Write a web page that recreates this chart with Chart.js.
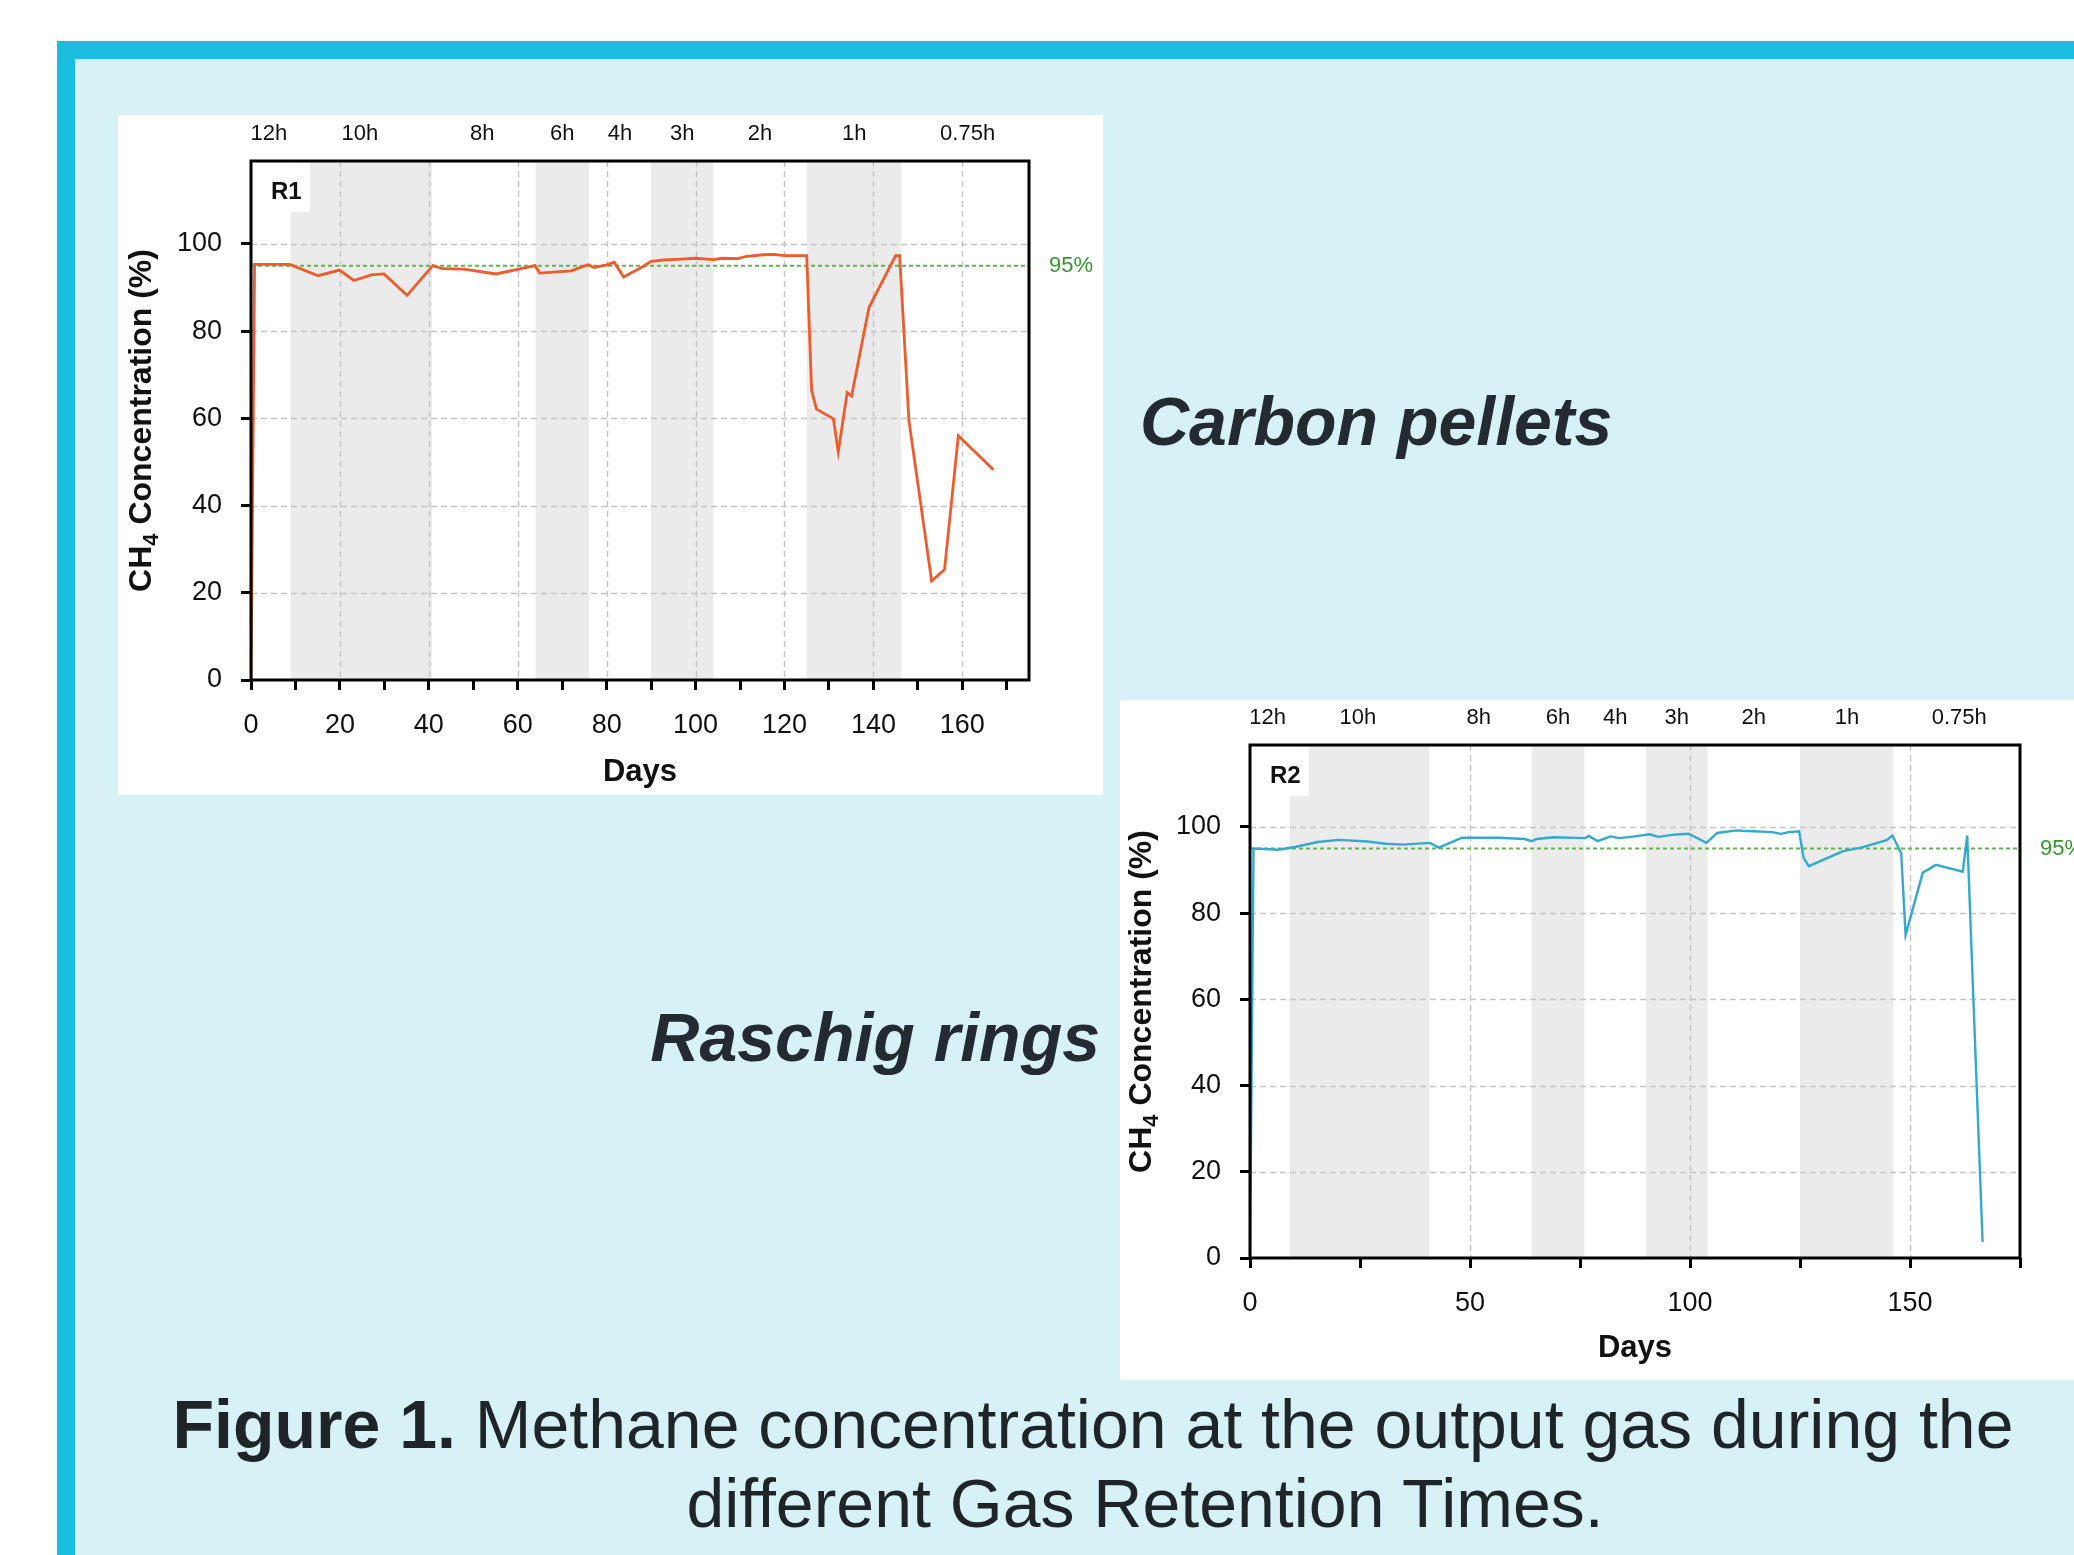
<!DOCTYPE html>
<html>
<head>
<meta charset="utf-8">
<script src="https://cdn.jsdelivr.net/npm/chart.js@4.4.1/dist/chart.umd.min.js"></script>
<style>
html,body{margin:0;padding:0;background:#fff;}
body{width:2074px;height:1555px;position:relative;overflow:hidden;font-family:"Liberation Sans",Arial,Helvetica,sans-serif;}
#frame{position:absolute;left:57px;top:41px;right:0;bottom:0;background:#1CBEDF;}
#inner{position:absolute;left:75px;top:59px;right:0;bottom:0;background:#D6F2F7;}
.panel{position:absolute;background:#fff;}
#p1{left:118px;top:115px;width:985px;height:680px;}
#p2{left:1120px;top:700px;width:954px;height:680px;}
.panel canvas{position:absolute;left:0;top:0;}
.label{position:absolute;font-weight:bold;font-style:italic;font-size:68px;line-height:68px;color:#232A31;white-space:nowrap;}
#lab1{left:1140px;top:387px;}
#lab2{left:0;width:1100px;text-align:right;top:1003px;}
.cap{position:absolute;font-size:68px;line-height:68px;color:#1F2429;white-space:nowrap;text-align:center;width:3000px;}
#cap1{left:-407px;top:1390px;}
#cap2{left:-355px;top:1469px;}
</style>
</head>
<body>
<div id="frame"></div>
<div id="inner"></div>
<div class="panel" id="p1"><canvas id="c1" width="985" height="680"></canvas></div>
<div class="panel" id="p2"><canvas id="c2" width="954" height="680"></canvas></div>
<div class="label" id="lab1">Carbon pellets</div>
<div class="label" id="lab2">Raschig rings</div>
<div class="cap" id="cap1"><b>Figure 1.</b> Methane concentration at the output gas during the</div>
<div class="cap" id="cap2">different Gas Retention Times.</div>
<script>
// ---- data ----
const periodLabels = ['12h','10h','8h','6h','4h','3h','2h','1h','0.75h'];
const periodCenters = [4, 24.5, 52, 70, 83, 97, 114.5, 135.7, 161.2];
const bandStarts = [9, 64, 90, 125];
const bandEnds = [40.7, 76, 104, 146.2];
const yTicks = [0, 20, 40, 60, 80, 100];
const yGrid = [20, 40, 60, 80, 100];
const xTicks1 = [0,10,20,30,40,50,60,70,80,90,100,110,120,130,140,150,160,170];
const xLabels1 = [0,20,40,60,80,100,120,140,160];
const xGrid1 = [20,40,60,80,100,120,140,160];
const xTicks2 = [0,25,50,75,100,125,150,175];
const xLabels2 = [0,50,100,150];
const xGrid2 = [50,100,150];
const threshold = 95;

const daysR1 = [0, 0.8, 8.7, 15.1, 19.9, 23.1, 27.1, 29.9, 35.1, 40.9, 43.1, 47.9, 55.1, 63.9, 64.9, 72.0, 75.8, 77.2, 80.0, 81.7, 83.8, 88.0, 90.0, 92.8, 96.8, 100.0, 104.0, 106.0, 109.6, 111.2, 115.2, 117.6, 120.0, 125.0, 126.1, 127.2, 131.0, 132.1, 134.1, 135.1, 139.0, 145.0, 145.9, 148.0, 153.1, 156.0, 159.1, 167.0];
const ch4R1 = [0, 95.3, 95.3, 92.7, 94.0, 91.6, 92.9, 93.1, 88.2, 95.0, 94.3, 94.2, 93.1, 95.0, 93.3, 93.8, 95.2, 94.6, 95.2, 95.8, 92.4, 94.7, 96.0, 96.3, 96.5, 96.7, 96.4, 96.7, 96.6, 97.1, 97.5, 97.6, 97.3, 97.3, 66.4, 62.1, 59.9, 52.3, 65.9, 65.1, 85.4, 97.3, 97.3, 59.4, 22.7, 25.3, 56.0, 48.2];

const daysR2 = [0, 0.8, 6.5, 10.5, 15.4, 20.1, 26.7, 30.8, 34.8, 40.9, 42.9, 48.2, 56.7, 62.4, 64.0, 65.2, 68.9, 76.2, 77.0, 79.0, 81.9, 83.9, 87.5, 90.8, 92.8, 96.4, 99.7, 103.7, 106.2, 110.6, 111.8, 118.7, 120.7, 122.4, 124.8, 125.8, 127.0, 134.8, 138.9, 144.7, 146.0, 148.0, 149.0, 152.9, 155.9, 162.0, 163.0, 166.5];
const ch4R2 = [0, 95.0, 94.7, 95.4, 96.5, 97.0, 96.6, 96.1, 95.9, 96.3, 95.2, 97.5, 97.5, 97.2, 96.7, 97.2, 97.6, 97.4, 97.9, 96.7, 97.8, 97.4, 97.8, 98.3, 97.7, 98.2, 98.4, 96.3, 98.6, 99.2, 99.1, 98.8, 98.4, 98.8, 99.0, 92.9, 90.9, 94.4, 95.2, 96.9, 98.0, 93.9, 74.9, 89.4, 91.2, 89.6, 98.0, 3.7];

// ---- rendering ----
const FONT = '"Liberation Sans", Arial, Helvetica, sans-serif';

function decorPlugin(cfg) {
  return {
    id: 'decor',
    beforeDatasetsDraw(chart) {
      const {ctx, chartArea: ca, scales} = chart;
      const xs = scales.x, ys = scales.y;
      ctx.save();
      ctx.fillStyle = '#EBEBEB';
      bandStarts.forEach((s, i) => {
        const x0 = xs.getPixelForValue(s), x1 = xs.getPixelForValue(bandEnds[i]);
        ctx.fillRect(x0, ca.top, x1 - x0, ca.bottom - ca.top);
      });
      ctx.fillStyle = '#ffffff';
      ctx.fillRect(ca.left, ca.top + 2, 59, 49);
      ctx.strokeStyle = '#C4C4C4';
      ctx.lineWidth = 1.4;
      ctx.setLineDash([6, 4]);
      cfg.xGrid.forEach(v => {
        const x = Math.round(xs.getPixelForValue(v)) + 0.5;
        ctx.beginPath(); ctx.moveTo(x, ca.top); ctx.lineTo(x, ca.bottom); ctx.stroke();
      });
      yGrid.forEach(v => {
        const y = Math.round(ys.getPixelForValue(v)) + 0.5;
        ctx.beginPath(); ctx.moveTo(ca.left, y); ctx.lineTo(ca.right, y); ctx.stroke();
      });
      ctx.strokeStyle = '#62B54E';
      ctx.lineWidth = 2;
      ctx.setLineDash([4, 3]);
      const yt = ys.getPixelForValue(threshold);
      ctx.beginPath(); ctx.moveTo(ca.left, yt); ctx.lineTo(ca.right, yt); ctx.stroke();
      ctx.setLineDash([]);
      ctx.fillStyle = '#111';
      ctx.font = 'bold 24px ' + FONT;
      ctx.textAlign = 'left';
      ctx.textBaseline = 'alphabetic';
      ctx.fillText(cfg.tag, ca.left + 20, ca.top + 38);
      ctx.restore();
    },
    afterDatasetsDraw(chart) {
      const {ctx, chartArea: ca, scales} = chart;
      const ys = scales.y;
      ctx.save();
      ctx.strokeStyle = '#000';
      ctx.lineWidth = 3;
      ctx.strokeRect(ca.left, ca.top, ca.right - ca.left, ca.bottom - ca.top);
      ctx.fillStyle = '#33992A';
      ctx.font = '22px ' + FONT;
      ctx.textAlign = 'left';
      ctx.textBaseline = 'middle';
      ctx.fillText(threshold + '%', ca.right + 20, ys.getPixelForValue(threshold));
      ctx.translate(cfg.titleX, (ca.top + ca.bottom) / 2);
      ctx.rotate(-Math.PI / 2);
      ctx.fillStyle = '#111';
      ctx.textBaseline = 'alphabetic';
      const big = 'bold 32px ' + FONT, small = 'bold 22px ' + FONT;
      ctx.font = big; const w1 = ctx.measureText('CH').width; const w3 = ctx.measureText(' Concentration (%)').width;
      ctx.font = small; const w2 = ctx.measureText('4').width;
      let x = -(w1 + w2 + w3) / 2;
      const base = 11;
      ctx.font = big; ctx.fillText('CH', x, base); x += w1;
      ctx.font = small; ctx.fillText('4', x, base + 7); x += w2;
      ctx.font = big; ctx.fillText(' Concentration (%)', x, base);
      ctx.restore();
    }
  };
}

function makeChart(id, cfg) {
  return new Chart(document.getElementById(id), {
    type: 'line',
    data: {
      datasets: [{
        data: cfg.days.map((d, i) => ({x: d, y: cfg.vals[i]})),
        borderColor: cfg.color,
        borderWidth: cfg.lw,
        pointRadius: 0,
        tension: 0,
        fill: false
      }]
    },
    options: {
      responsive: false,
      animation: false,
      devicePixelRatio: 1,
      layout: {padding: {left: 0, top: 0, bottom: 0, right: cfg.padRight}},
      plugins: {legend: {display: false}, tooltip: {enabled: false}},
      scales: {
        x: {
          type: 'linear', position: 'bottom', min: 0, max: 175,
          afterFit: s => { s.height = cfg.bottomH; },
          afterBuildTicks: s => { s.ticks = cfg.xTicks.map(v => ({value: v})); },
          ticks: {autoSkip: false, maxRotation: 0, minRotation: 0, padding: 19, color: '#111',
                  font: {size: 27, family: FONT},
                  callback: v => cfg.xLabels.includes(v) ? String(v) : ''},
          grid: {display: true, drawOnChartArea: false, drawTicks: true, tickLength: 10, tickWidth: 3, tickColor: '#000', color: '#000'},
          border: {display: false},
          title: {display: true, text: 'Days', color: '#111',
                  font: {size: 31, weight: 'bold', family: FONT},
                  padding: {top: 0, bottom: cfg.daysPad}}
        },
        xTop: {
          type: 'linear', position: 'top', min: 0, max: 175,
          afterFit: s => { s.height = cfg.topH; },
          afterBuildTicks: s => { s.ticks = periodCenters.map(v => ({value: v})); },
          ticks: {autoSkip: false, maxRotation: 0, minRotation: 0, padding: 14, color: '#111',
                  font: {size: 22, family: FONT},
                  callback: (v, i) => periodLabels[i]},
          grid: {display: false, drawTicks: false},
          border: {display: false}
        },
        y: {
          type: 'linear', position: 'left', min: 0, max: 119,
          afterFit: s => { s.width = cfg.leftW; },
          afterBuildTicks: s => { s.ticks = yTicks.map(v => ({value: v})); },
          ticks: {padding: 19, color: '#111', font: {size: 27, family: FONT}},
          grid: {display: true, drawOnChartArea: false, drawTicks: true, tickLength: 10, tickWidth: 3, tickColor: '#000', color: '#000'},
          border: {display: false}
        }
      }
    },
    plugins: [decorPlugin(cfg)]
  });
}

makeChart('c1', {
  days: daysR1, vals: ch4R1, color: '#F15A2B', lw: 2.8,
  xTicks: xTicks1, xLabels: xLabels1, xGrid: xGrid1,
  leftW: 133, topH: 46, bottomH: 115, padRight: 74, daysPad: 4,
  tag: 'R1', titleX: 22
});
makeChart('c2', {
  days: daysR2, vals: ch4R2, color: '#33A8D1', lw: 2.4,
  xTicks: xTicks2, xLabels: xLabels2, xGrid: xGrid2,
  leftW: 130, topH: 45, bottomH: 122, padRight: 54, daysPad: 13,
  tag: 'R2', titleX: 20
});
</script>
</body>
</html>
